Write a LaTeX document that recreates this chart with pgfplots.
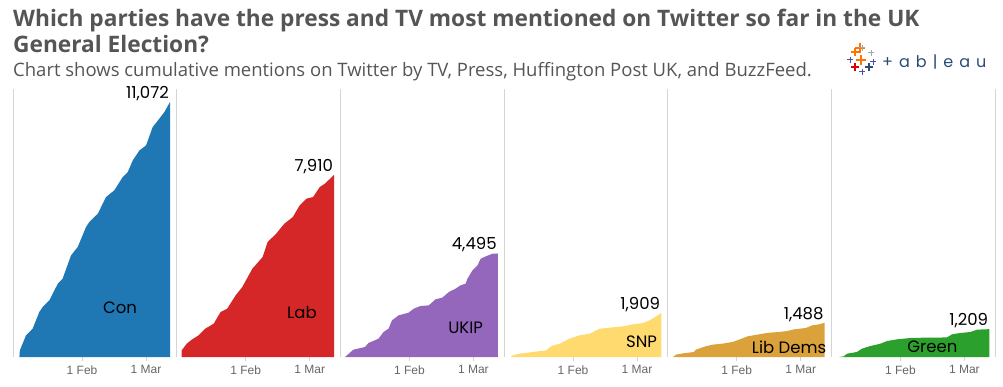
\documentclass[border=0pt]{standalone}
\usepackage{pgfplots}
\pgfplotsset{compat=1.18}
\usepackage{fontspec}
\setmainfont{Liberation Sans}
\newfontfamily\titlefont{Open Sans}
\newfontfamily\labfont{Poppins}
\definecolor{titlegray}{HTML}{555555}
\definecolor{sepgray}{HTML}{D4D4D4}
\definecolor{tickgray}{HTML}{666666}
\definecolor{ccon}{HTML}{1F77B4}
\definecolor{clab}{HTML}{D62728}
\definecolor{cukip}{HTML}{9467BD}
\definecolor{csnp}{HTML}{FFDA6E}
\definecolor{cld}{HTML}{DBA13B}
\definecolor{cgreen}{HTML}{2CA02C}
\definecolor{tabnavy}{HTML}{2A4A78}
\pgfplotsset{panel/.style={scale only axis, width=163.67pt, height=268pt,
  xmin=0.8, xmax=72.4, ymin=0, ymax=11637, anchor=south west,
  axis x line*=bottom, axis y line*=left,
  x axis line style={draw=none},
  y axis line style={draw=sepgray, line width=0.9pt, -},
  ytick=\empty, xtick={31,59}, xticklabels={1 Feb,1 Mar},
  tick align=outside, major tick length=4pt,
  x tick style={draw=sepgray, line width=0.9pt},
  x tick label style={font=\fontsize{12}{14}\selectfont, text=tickgray, yshift=-1pt},
  clip=false}}
\tikzset{vlab/.style={anchor=south east, inner sep=1pt, font=\labfont\fontsize{16.5}{18}\selectfont, text=black},
  plab/.style={anchor=center, inner sep=0pt, font=\labfont\fontsize{16.5}{18}\selectfont, text=black}}
\begin{document}
\begin{tikzpicture}[x=1pt,y=1pt]
\useasboundingbox (0,0) rectangle (1003,386);
\node[anchor=base west, inner sep=0, text=titlegray, font=\titlefont\bfseries\fontsize{22.7}{26}\selectfont] at (13,359) {Which parties have the press and TV most mentioned on Twitter so far in the UK};
\node[anchor=base west, inner sep=0, text=titlegray, font=\titlefont\bfseries\fontsize{22.7}{26}\selectfont] at (13,333) {General Election?};
\node[anchor=base west, inner sep=0, text=titlegray, font=\titlefont\fontsize{18.5}{22}\selectfont] at (13,309) {Chart shows cumulative mentions on Twitter by TV, Press, Huffington Post UK, and BuzzFeed.};
% tableau logo
\begin{scope}[line width=1.6pt]
\draw[orange!90!red] (855,338)--(865,338) (860,333)--(860,343);
\draw[orange!90!red, line width=1.2pt] (851,334)--(859,334) (855,330)--(855,338);
\draw[gray!70, line width=1pt] (859,338)--(865,338) (862,335)--(862,341);
\draw[gray!70, line width=1pt] (868,333)--(874,333) (871,330)--(871,336);
\draw[gray!60!blue, line width=1pt] (847,326)--(853,326) (850,323)--(850,329);
\draw[gray!60!blue, line width=1pt] (870,324)--(876,324) (873,321)--(873,327);
\draw[red!85!black, line width=1.2pt] (851,319)--(859,319) (855,315)--(855,323);
\draw[tabnavy, line width=1.2pt] (865,319)--(873,319) (869,315)--(869,323);
\draw[gray!60!blue, line width=1pt] (859,314)--(865,314) (862,311)--(862,317);
\draw[orange!90!red] (856,326)--(866,326) (861,321)--(861,331);
\end{scope}
\node[anchor=west, inner sep=0, text=tabnavy, font=\labfont\fontsize{16}{18}\selectfont] at (882,324) {+\hspace{6pt}a\hspace{6pt}b\hspace{6pt}|\hspace{6pt}e\hspace{6pt}a\hspace{6pt}u};
% panels
\begin{axis}[panel, at={(13pt,29pt)}]
\addplot[fill=ccon, draw=none] coordinates {(3.6,0)(3.8,289)(5.0,579)(6.5,941)(9.4,1230)(12.3,1953)(13.8,2171)(16.7,2460)(20.4,3183)(22.5,3400)(26.2,4413)(29.1,4775)(32.75,5643)(34.2,5860)(37.9,6222)(41.5,6946)(45.1,7235)(48.8,7814)(51.0,8031)(53.2,8537)(56.1,8971)(59.0,9188)(61.9,9984)(64.8,10346)(67.0,10635)(69.5,11072)} \closedcycle;
\node[vlab] at (axis cs:69.5,11072) {11,072};
\node[plab] at (axis cs:47.6,2128) {Con};
\end{axis}
\begin{axis}[panel, at={(176.67pt,29pt)}]
\addplot[fill=clab, draw=none] coordinates {(3.0,0)(3.0,289)(5.2,579)(7.4,752)(10.4,941)(13.3,1230)(17.0,1447)(20.0,1953)(22.9,2098)(26.6,2677)(29.5,3039)(33.9,3834)(38.4,4341)(40.6,4992)(44.3,5354)(47.9,5788)(51.6,6077)(54.6,6584)(57.5,6873)(60.5,6946)(63.4,7380)(65.6,7524)(69.7,7910)} \closedcycle;
\node[vlab] at (axis cs:69.7,7910) {7,910};
\node[plab] at (axis cs:55.6,1954) {Lab};
\end{axis}
\begin{axis}[panel, at={(340.33pt,29pt)}]
\addplot[fill=cukip, draw=none] coordinates {(2.85,0)(6.5,318)(11.6,434)(13.1,608)(17.5,796)(19.7,1085)(21.9,1230)(23.4,1592)(26.3,1809)(30.7,1925)(32.9,2098)(35.8,2214)(39.5,2243)(42.4,2503)(45.4,2576)(48.3,2822)(51.2,2966)(53.4,3111)(55.6,3183)(56.4,3400)(58.6,3762)(60.8,3979)(62.2,4269)(64.4,4370)(67.4,4486)(69.7,4495)} \closedcycle;
\node[vlab] at (axis cs:69.7,4495) {4,495};
\node[plab] at (axis cs:55.6,1259) {UKIP};
\end{axis}
\begin{axis}[panel, at={(504pt,29pt)}]
\addplot[fill=csnp, draw=none] coordinates {(3.7,0)(4.8,72)(7.7,145)(13.5,217)(19.3,289)(21.5,477)(25.2,579)(29.5,796)(33.9,941)(38.3,1013)(42.7,1230)(47.0,1273)(52.9,1331)(57.2,1418)(61.6,1476)(64.5,1592)(67.4,1765)(69.6,1909)} \closedcycle;
\node[vlab] at (axis cs:69.6,1909) {1,909};
\node[plab] at (axis cs:61.0,651) {SNP};
\end{axis}
\begin{axis}[panel, at={(667.67pt,29pt)}]
\addplot[fill=cld, draw=none] coordinates {(3.2,0)(4.3,101)(8.7,174)(12.3,217)(13.1,318)(17.4,463)(20.4,535)(24.7,579)(29.1,651)(32.0,752)(35.7,897)(40.8,984)(45.1,1056)(49.5,1085)(53.2,1129)(56.1,1201)(61.2,1259)(64.1,1375)(67.0,1418)(69.5,1488)} \closedcycle;
\node[vlab] at (axis cs:69.5,1488) {1,488};
\node[plab] at (axis cs:53.9,434) {Lib Dems};
\end{axis}
\begin{axis}[panel, at={(831.33pt,29pt)}]
\addplot[fill=cgreen, draw=none] coordinates {(4.3,0)(6.2,29)(7.7,145)(12.0,217)(14.2,362)(17.9,477)(22.3,579)(25.2,694)(29.5,767)(35.4,825)(41.2,839)(47.0,839)(51.4,854)(53.6,984)(57.2,1042)(61.6,1085)(64.5,1187)(69.9,1209)} \closedcycle;
\node[vlab] at (axis cs:69.9,1209) {1,209};
\node[plab] at (axis cs:45.0,434) {Green};
\draw[sepgray, line width=0.9pt] (rel axis cs:1,0) -- (rel axis cs:1,1);
\end{axis}
\end{tikzpicture}
\end{document}
